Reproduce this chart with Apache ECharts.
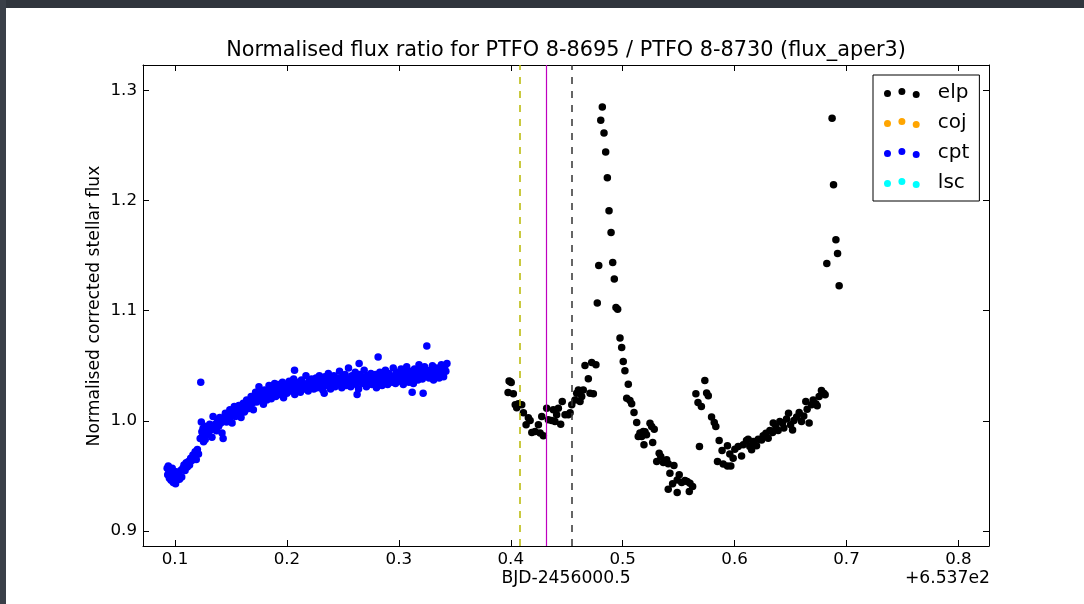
<!DOCTYPE html>
<html><head><meta charset="utf-8">
<script src="https://cdn.jsdelivr.net/npm/echarts@6/dist/echarts.min.js"></script>
<style>html,body{margin:0;padding:0;background:#fff}#c{width:1084px;height:604px}</style>
</head><body><div id="c"></div>
<script>
// ---- data (x is BJD-2456000.5 minus 653.7) ----
const titleText = 'Normalised flux ratio for PTFO 8-8695 / PTFO 8-8730 (flux_aper3)';
const xName = 'BJD-2456000.5';
const yName = 'Normalised corrected stellar flux';
const xOffsetText = '+6.537e2';
const xTicks = [0.1, 0.2, 0.3, 0.4, 0.5, 0.6, 0.7, 0.8];
const yTicks = [0.9, 1.0, 1.1, 1.2, 1.3];
const seriesNames = ['elp', 'coj', 'cpt', 'lsc'];
const refLines = [0.4077, 0.4318, 0.4547];

const elp = [
[0.3976,1.0257],[0.3985,1.0362],[0.3994,1.0357],[0.4004,1.0349],[0.4023,1.0245],[0.4040,1.0145],[0.4053,1.0118],[0.4068,1.0155],[0.4098,1.0145],[0.4113,1.0073],[0.4137,0.9964],[0.4157,1.0027],[0.4173,1.0003],[0.4188,0.9894],[0.4217,0.9903],[0.4247,0.9964],[0.4262,0.9889],[0.4277,1.0039],[0.4291,0.9864],[0.4321,1.0115],[0.4336,1.0010],[0.4366,1.0003],[0.4380,1.0100],[0.4395,0.9994],[0.4410,1.0055],[0.4425,1.0115],[0.4446,0.9970],[0.4460,1.0175],[0.4485,1.0055],[0.4514,1.0055],[0.4530,1.0073],[0.4545,1.0145],[0.4574,1.0190],[0.4589,1.0250],[0.4604,1.0280],[0.4619,1.0175],[0.4634,1.0220],[0.4648,1.0280],[0.4663,1.0502],[0.4693,1.0382],[0.4708,1.0250],[0.4723,1.0530],[0.4738,1.0245],[0.4761,1.0509],[0.4773,1.1069],[0.4786,1.1411],[0.4804,1.2728],[0.4818,1.2849],[0.4833,1.2613],[0.4848,1.2440],[0.4863,1.2207],[0.4878,1.1907],[0.4896,1.1710],[0.4911,1.1438],[0.4925,1.1287],[0.4940,1.1029],[0.4955,1.1014],[0.4976,1.0751],[0.4991,1.0666],[0.5005,1.0539],[0.5020,1.0454],[0.5036,1.0206],[0.5050,1.0333],[0.5065,1.0184],[0.5080,1.0155],[0.5101,1.0075],[0.5125,0.9985],[0.5139,0.9857],[0.5154,0.9889],[0.5170,0.9857],[0.5184,0.9903],[0.5190,0.9782],[0.5199,0.9900],[0.5213,0.9873],[0.5244,0.9979],[0.5259,0.9948],[0.5268,0.9803],[0.5282,0.9924],[0.5304,0.9630],[0.5326,0.9707],[0.5340,0.9676],[0.5363,0.9621],[0.5393,0.9646],[0.5407,0.9610],[0.5407,0.9380],[0.5422,0.9525],[0.5446,0.9428],[0.5458,0.9594],[0.5487,0.9464],[0.5487,0.9349],[0.5505,0.9510],[0.5527,0.9440],[0.5556,0.9458],[0.5576,0.9449],[0.5595,0.9358],[0.5601,0.9434],[0.5625,0.9403],[0.5654,1.0245],[0.5673,1.0166],[0.5686,0.9767],[0.5703,1.0130],[0.5734,1.0366],[0.5750,1.0252],[0.5765,1.0227],[0.5794,1.0034],[0.5818,0.9985],[0.5832,0.9948],[0.5847,0.9630],[0.5862,0.9821],[0.5888,0.9730],[0.5898,0.9609],[0.5936,0.9773],[0.5936,0.9591],[0.5957,0.9700],[0.5966,0.9591],[0.5987,0.9661],[0.6002,0.9743],[0.6032,0.9767],[0.6062,0.9682],[0.6077,0.9782],[0.6106,0.9821],[0.6121,0.9834],[0.6136,0.9767],[0.6152,0.9737],[0.6166,0.9812],[0.6196,0.9773],[0.6211,0.9834],[0.6241,0.9827],[0.6255,0.9864],[0.6280,0.9888],[0.6300,0.9843],[0.6315,0.9912],[0.6339,0.9894],[0.6345,0.9980],[0.6368,0.9948],[0.6389,0.9912],[0.6404,0.9994],[0.6428,0.9980],[0.6440,0.9934],[0.6464,1.0016],[0.6482,1.0070],[0.6500,0.9964],[0.6518,0.9918],[0.6530,1.0003],[0.6554,1.0034],[0.6577,1.0075],[0.6598,0.9994],[0.6618,1.0045],[0.6636,1.0175],[0.6648,1.0106],[0.6666,0.9980],[0.6687,1.0145],[0.6702,1.0190],[0.6726,1.0155],[0.6738,1.0136],[0.6755,1.0221],[0.6776,1.0275],[0.6797,1.0250],[0.6809,1.0236],[0.6824,1.1429],[0.6871,1.2746],[0.6884,1.2144],[0.6905,1.1644],[0.6920,1.1520],[0.6934,1.1226]
];
const coj = [];
const cpt = [
[0.0930,0.957],[0.0935,0.951],[0.0940,0.959],[0.0945,0.953],[0.0950,0.948],[0.0955,0.955],[0.0960,0.950],[0.0965,0.946],[0.0970,0.953],[0.0975,0.957],[0.0980,0.949],[0.0985,0.944],[0.0990,0.952],[0.0995,0.947],[0.1000,0.954],[0.1005,0.943],[0.1010,0.950],[0.1015,0.946],[0.1020,0.951],[0.1030,0.953],[0.1040,0.947],[0.1050,0.955],[0.1060,0.949],[0.1070,0.957],[0.1080,0.960],[0.1090,0.955],[0.1100,0.962],[0.1110,0.958],
[0.1120,0.963],[0.1130,0.960],[0.1140,0.966],[0.1150,0.964],[0.1160,0.969],[0.1170,0.967],[0.1180,0.972],[0.1190,0.965],[0.1200,0.974],[0.1210,0.970],[0.1230,1.035],
[0.1225,0.984],[0.1235,0.999],[0.1240,0.990],[0.1245,0.986],[0.1250,0.993],[0.1255,0.981],[0.1260,0.989],[0.1265,0.995],[0.1270,0.983],[0.1275,0.991],[0.1280,0.987],[0.1290,0.994],[0.1300,0.989],[0.1310,0.997],[0.1320,0.992],[0.1330,0.985],[0.1340,1.004],[0.1350,0.995],
[0.1360,0.997],[0.1370,0.991],[0.1380,1.001],[0.1390,0.995],[0.1400,1.003],[0.1410,0.998],[0.1420,0.989],[0.1430,0.984],[0.1440,1.002],[0.1450,1.007],[0.1460,0.999],[0.1470,1.005],[0.1480,1.001],[0.1490,1.010],[0.1500,1.004],[0.1510,0.998],[0.1520,1.008],[0.1530,1.013],[0.1540,1.004],[0.1550,1.010],[0.1560,1.006],[0.1570,1.014],[0.1580,1.009],[0.1590,1.003],[0.1600,1.012],
[0.1610,1.016],[0.1620,1.008],[0.1630,1.014],[0.1640,1.019],[0.1650,1.011],[0.1660,1.017],[0.1670,1.013],[0.1680,1.022],[0.1690,1.016],[0.1700,1.010],[0.1710,1.020],[0.1720,1.026],[0.1730,1.017],[0.1740,1.023],[0.1750,1.031],[0.1760,1.019],[0.1770,1.025],[0.1780,1.021],[0.1790,1.015],[0.1800,1.028],[0.1810,1.023],[0.1820,1.019],[0.1830,1.027],[0.1840,1.032],[0.1850,1.024],[0.1860,1.020],[0.1870,1.029],[0.1880,1.025],[0.1890,1.034],[0.1900,1.022],
[0.1910,1.028],[0.1920,1.033],[0.1930,1.024],[0.1940,1.030],[0.1950,1.026],[0.1960,1.035],[0.1970,1.021],[0.1980,1.029],[0.1990,1.032],[0.2000,1.025],[0.2010,1.031],[0.2020,1.036],[0.2030,1.027],[0.2040,1.033],[0.2050,1.029],[0.2060,1.038],[0.2068,1.046],[0.2070,1.024],[0.2080,1.031],[0.2090,1.035],[0.2100,1.028],[0.2110,1.033],[0.2120,1.026],[0.2130,1.037],[0.2140,1.030],[0.2150,1.034],[0.2160,1.029],[0.2170,1.041],[0.2180,1.032],[0.2190,1.027],[0.2200,1.036],[0.2210,1.031],[0.2220,1.038],[0.2230,1.033],[0.2240,1.029],[0.2250,1.035],
[0.2260,1.039],[0.2270,1.030],[0.2280,1.036],[0.2290,1.041],[0.2300,1.033],[0.2310,1.038],[0.2320,1.028],[0.2330,1.035],[0.2333,1.025],[0.2340,1.040],[0.2350,1.032],[0.2360,1.037],[0.2370,1.043],[0.2380,1.034],[0.2390,1.029],[0.2400,1.038],[0.2410,1.035],[0.2420,1.041],[0.2430,1.031],[0.2440,1.036],[0.2450,1.039],[0.2460,1.033],[0.2470,1.045],[0.2480,1.037],[0.2490,1.030],[0.2500,1.040],[0.2510,1.035],[0.2520,1.042],[0.2530,1.032],[0.2540,1.038],[0.2550,1.048],[0.2560,1.036],[0.2570,1.031],[0.2580,1.041],[0.2590,1.034],[0.2600,1.039],[0.2610,1.044],[0.2620,1.033],[0.2627,1.024],[0.2630,1.038],[0.2640,1.029],[0.2645,1.052],[0.2650,1.042],[0.2660,1.036],[0.2670,1.040],[0.2680,1.034],[0.2690,1.046],[0.2700,1.037],[0.2710,1.031],[0.2720,1.041],[0.2730,1.035],[0.2740,1.039],[0.2750,1.043],[0.2760,1.033],[0.2770,1.038],[0.2780,1.036],[0.2790,1.042],[0.2800,1.030],
[0.2810,1.040],[0.2815,1.058],[0.2820,1.035],[0.2830,1.044],[0.2840,1.038],[0.2850,1.032],[0.2860,1.041],[0.2870,1.036],[0.2880,1.046],[0.2890,1.039],[0.2900,1.033],[0.2910,1.043],[0.2920,1.037],[0.2930,1.041],[0.2940,1.035],[0.2950,1.048],[0.2960,1.039],[0.2970,1.034],[0.2980,1.044],[0.2990,1.038],[0.3000,1.042],[0.3010,1.036],[0.3020,1.047],[0.3030,1.040],[0.3040,1.033],[0.3050,1.044],[0.3060,1.038],[0.3070,1.049],[0.3080,1.041],[0.3090,1.035],[0.3100,1.045],[0.3110,1.039],[0.3119,1.026],[0.3120,1.043],[0.3130,1.034],[0.3140,1.047],[0.3150,1.040],[0.3160,1.044],[0.3170,1.037],[0.3180,1.051],[0.3190,1.042],[0.3200,1.046],[0.3210,1.038],[0.3217,1.025],[0.3220,1.043],[0.3230,1.049],[0.3240,1.041],[0.3250,1.068],[0.3260,1.044],[0.3270,1.039],[0.3280,1.046],[0.3290,1.042],[0.3300,1.050],[0.3310,1.037],[0.3320,1.045],[0.3330,1.041],[0.3340,1.048],[0.3350,1.043],[0.3360,1.039],[0.3370,1.046],[0.3380,1.051],[0.3390,1.044],[0.3400,1.040],[0.3410,1.049],[0.3420,1.045],[0.3430,1.052]
];
const lsc = [];

// ---- styling ----
const F = '"DejaVu Sans", sans-serif';
const seriesColors = ['#000000', '#FFA500', '#0000FF', '#00FFFF'];
const refStyles = [
  {color: '#b8b800', type: [7, 7], width: 1.5},
  {color: '#bf00bf', type: 'solid', width: 1.2},
  {color: '#333333', type: [7, 7], width: 1.5}
];
const X_MIN = 0.0714, X_MAX = 0.8273, Y_MIN = 0.8864, Y_MAX = 1.3230;
const allData = [elp, coj, cpt, lsc];

function xAx(pos, showLabel) {
  return {
    type: 'value', min: X_MIN, max: X_MAX, position: pos,
    axisLine: {show: true, onZero: false, lineStyle: {color: '#000', width: 1}},
    axisTick: {show: true, inside: true, length: 6, customValues: xTicks, lineStyle: {color: '#000'}},
    axisLabel: {show: showLabel, customValues: xTicks, formatter: v => v.toFixed(1), margin: 5,
      color: '#000', fontSize: 16.7, fontFamily: F},
    splitLine: {show: false}
  };
}
function yAx(pos, showLabel) {
  return {
    type: 'value', min: Y_MIN, max: Y_MAX, position: pos,
    axisLine: {show: true, onZero: false, lineStyle: {color: '#000', width: 1}},
    axisTick: {show: true, inside: true, length: 6, customValues: yTicks, lineStyle: {color: '#000'}},
    axisLabel: {show: showLabel, customValues: yTicks, formatter: v => v.toFixed(1), margin: 6,
      color: '#000', fontSize: 16.7, fontFamily: F},
    splitLine: {show: false}
  };
}

const dotIcon = 'path://M0,5.5a3.5,3.5 0 1,0 7,0a3.5,3.5 0 1,0 -7,0Z' +
  'M14.4,3.5a3.5,3.5 0 1,0 7,0a3.5,3.5 0 1,0 -7,0Z' +
  'M28.7,6.5a3.5,3.5 0 1,0 7,0a3.5,3.5 0 1,0 -7,0Z';

const series = seriesNames.map((n, i) => ({
  name: n, type: 'scatter', data: allData[i], symbolSize: 7.5,
  itemStyle: {color: seriesColors[i], opacity: 1},
  xAxisIndex: 0, yAxisIndex: 0, z: 2
}));
series.push({
  name: 'refs', type: 'scatter', data: [], xAxisIndex: 0, yAxisIndex: 0, z: 5,
  markLine: {
    silent: true, symbol: ['none', 'none'], label: {show: false}, animation: false, precision: 5,
    data: refLines.map((x, i) => ({xAxis: x, lineStyle: refStyles[i]}))
  }
});

const chart = echarts.init(document.getElementById('c'), null, {renderer: 'canvas'});
chart.setOption({
  animation: false,
  backgroundColor: '#ffffff',
  title: {text: titleText, left: 566, top: 40, textAlign: 'center', padding: 0,
    textStyle: {fontFamily: F, fontSize: 20.8, fontWeight: 'normal', color: '#000'}},
  grid: {left: 143, top: 65, width: 846, height: 481, containLabel: false},
  xAxis: [xAx('bottom', true), xAx('top', false)],
  yAxis: [yAx('left', true), yAx('right', false)],
  legend: {
    data: seriesNames, orient: 'vertical', left: 873, top: 75,
    padding: [8, 10, 8, 11], itemGap: 10, itemWidth: 36, itemHeight: 10,
    icon: dotIcon, borderColor: '#000', borderWidth: 1, borderRadius: 0,
    backgroundColor: '#fff', selectedMode: false,
    textStyle: {fontFamily: F, fontSize: 20, color: '#000', padding: [0, 0, 0, 13]}
  },
  series: series,
  graphic: [
    {type: 'rect', shape: {x: 0, y: 0, width: 1084, height: 8}, style: {fill: '#30353d'}, z: 100},
    {type: 'rect', shape: {x: 0, y: 0, width: 6, height: 604}, style: {fill: '#3a3f48'}, z: 100},
    {type: 'text', x: 566, y: 579, style: {text: xName, font: '17.2px ' + F, fill: '#000', align: 'center', verticalAlign: 'middle'}},
    {type: 'text', x: 990, y: 579, style: {text: xOffsetText, font: '17.2px ' + F, fill: '#000', align: 'right', verticalAlign: 'middle'}},
    {type: 'text', x: 95, y: 306, rotation: Math.PI / 2, style: {text: yName, font: '17.2px ' + F, fill: '#000', align: 'center', verticalAlign: 'middle'}}
  ]
});
</script></body></html>
